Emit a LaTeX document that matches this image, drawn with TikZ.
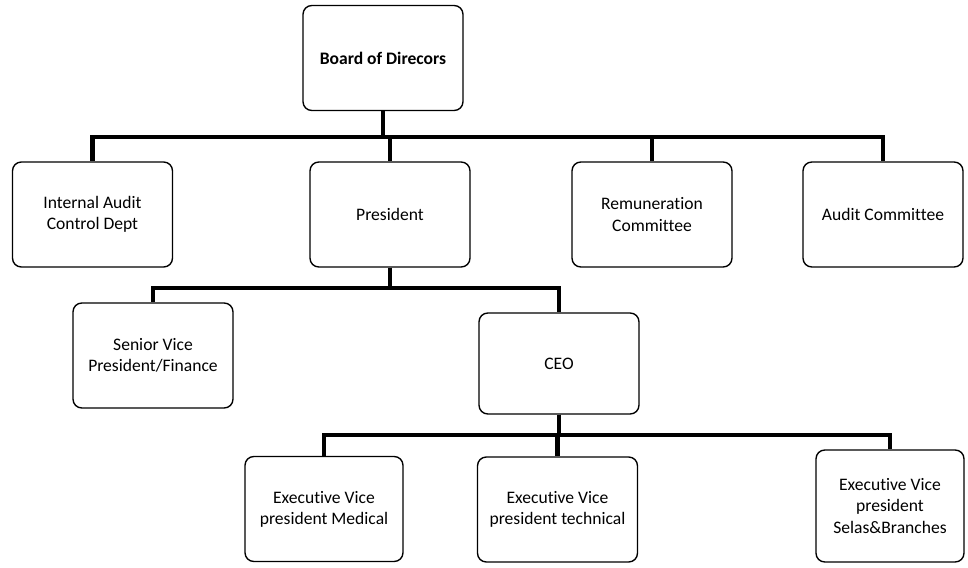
\documentclass[tikz,border=0pt]{standalone}
\usepackage{fontspec}
\setmainfont{Carlito}[Ligatures=NoCommon]

\begin{document}
\begin{tikzpicture}[x=0.02cm,y=-0.02cm,line join=miter,
    org node/.style={draw,line width=0.8pt,rounded corners=5pt,fill=white,align=center,inner sep=2pt,minimum width=3.2cm,minimum height=2.1cm,font=\fontsize{10}{12}\selectfont},
    bus/.style={line width=2.3pt,to path={(\tikztostart.south) -- ++(0,#1) -| (\tikztotarget.north)}},
    bus/.default=20]

            \useasboundingbox (0,0) rectangle (968,568);

            \node[org node,font=\fontsize{10}{12}\selectfont\bfseries] (board) at (383,58) {Board of Direcors};
            \node[org node] (internal) at (92.5,214.5) {Internal Audit\\Control Dept};
            \node[org node] (president) at (390,214.5) {President};
            \node[org node] (remuneration) at (652,214.5) {Remuneration\\Committee};
            \node[org node] (audit) at (883,214.5) {Audit Committee};
            \node[org node] (finance) at (153,355.5) {Senior Vice\\President/Finance};
            \node[org node,minimum height=2.02cm] (ceo) at (559,363.5) {CEO};
            \node[org node,minimum width=3.16cm] (medical) at (324,509) {Executive Vice\\president Medical};
            \node[org node] (technical) at (557.5,509.5) {Executive Vice\\president technical};
            \node[org node,minimum width=2.96cm,minimum height=2.24cm] (sales) at (890,506) {Executive Vice\\president\\Selas\&Branches};

            \path
                (board) edge[bus=26] (internal)
                (board) edge[bus=26] (president)
                (board) edge[bus=26] (remuneration)
                (board) edge[bus=26] (audit)
                (president) edge[bus] (finance)
                (president) edge[bus] (ceo)
                (ceo) edge[bus] (medical)
                (ceo) edge[bus] (technical)
                (ceo) edge[bus] (sales)
                ;
        \end{tikzpicture}
\end{document}
